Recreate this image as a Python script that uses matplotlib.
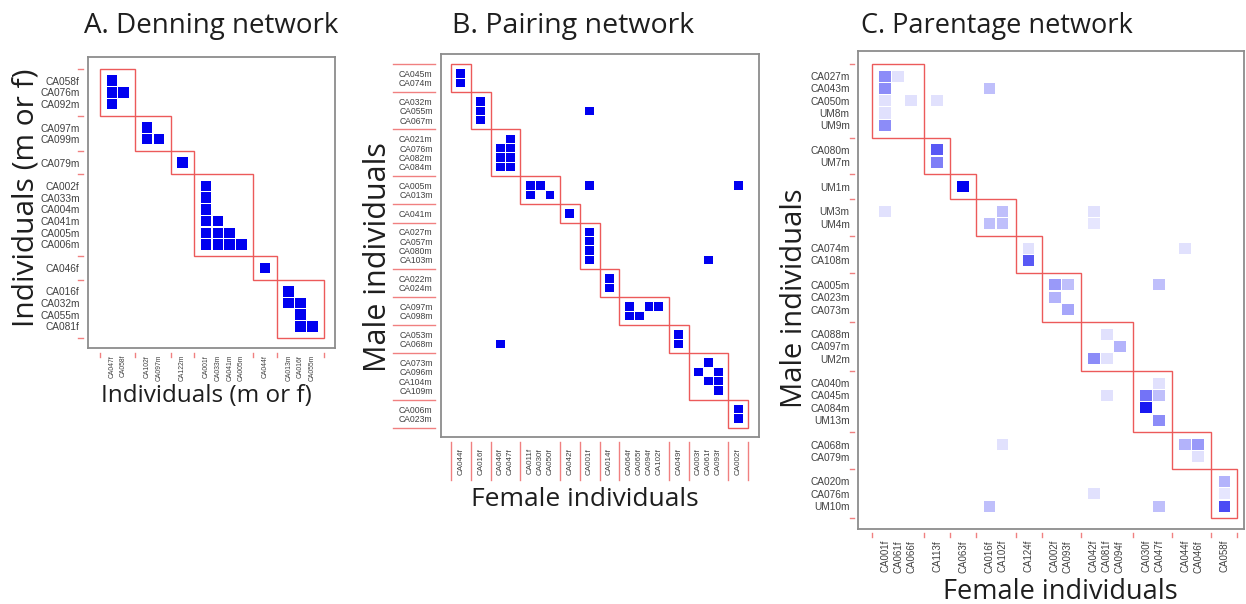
import numpy as np
import matplotlib.pyplot as plt
from matplotlib.colors import LinearSegmentedColormap
from matplotlib.patches import Rectangle

W, H = 1246, 604

# ---------------- A. Denning network ----------------
denning_rows = [["CA058f", "CA076m", "CA092m"], ["CA097m", "CA099m"], ["CA079m"],
                ["CA002f", "CA033m", "CA004m", "CA041m", "CA005m", "CA006m"],
                ["CA046f"], ["CA016f", "CA032m", "CA055m", "CA081f"]]
denning_cols = [["CA047f", "CA058f"], ["CA102f", "CA097m"], ["CA122m"],
                ["CA001f", "CA033m", "CA041m", "CA005m"], ["CA044f"],
                ["CA013m", "CA016f", "CA055m"]]
denning_links = [
    ("CA058f", "CA047f", 1), ("CA076m", "CA047f", 1), ("CA076m", "CA058f", 1),
    ("CA092m", "CA047f", 1),
    ("CA097m", "CA102f", 1), ("CA099m", "CA102f", 1), ("CA099m", "CA097m", 1),
    ("CA079m", "CA122m", 1),
    ("CA002f", "CA001f", 1), ("CA033m", "CA001f", 1), ("CA004m", "CA001f", 1),
    ("CA041m", "CA001f", 1), ("CA041m", "CA033m", 1),
    ("CA005m", "CA001f", 1), ("CA005m", "CA033m", 1), ("CA005m", "CA041m", 1),
    ("CA006m", "CA001f", 1), ("CA006m", "CA033m", 1), ("CA006m", "CA041m", 1),
    ("CA006m", "CA005m", 1),
    ("CA046f", "CA044f", 1),
    ("CA016f", "CA013m", 1), ("CA032m", "CA013m", 1), ("CA032m", "CA016f", 1),
    ("CA055m", "CA016f", 1), ("CA081f", "CA016f", 1), ("CA081f", "CA055m", 1),
]

# ---------------- B. Pairing network ----------------
pairing_rows = [["CA045m", "CA074m"], ["CA032m", "CA055m", "CA067m"],
                ["CA021m", "CA076m", "CA082m", "CA084m"], ["CA005m", "CA013m"],
                ["CA041m"], ["CA027m", "CA057m", "CA080m", "CA103m"],
                ["CA022m", "CA024m"], ["CA097m", "CA098m"], ["CA053m", "CA068m"],
                ["CA073m", "CA096m", "CA104m", "CA109m"], ["CA006m", "CA023m"]]
pairing_cols = [["CA044f"], ["CA016f"], ["CA046f", "CA047f"],
                ["CA011f", "CA030f", "CA050f"], ["CA042f"], ["CA001f"], ["CA014f"],
                ["CA064f", "CA065f", "CA094f", "CA102f"], ["CA049f"],
                ["CA003f", "CA061f", "CA093f"], ["CA002f"]]
pairing_links = [
    ("CA045m", "CA044f", 1), ("CA074m", "CA044f", 1),
    ("CA032m", "CA016f", 1), ("CA055m", "CA016f", 1), ("CA055m", "CA001f", 1),
    ("CA067m", "CA016f", 1),
    ("CA021m", "CA047f", 1), ("CA076m", "CA046f", 1), ("CA076m", "CA047f", 1),
    ("CA082m", "CA046f", 1), ("CA082m", "CA047f", 1), ("CA084m", "CA046f", 1),
    ("CA084m", "CA047f", 1),
    ("CA005m", "CA011f", 1), ("CA005m", "CA030f", 1), ("CA005m", "CA001f", 1),
    ("CA005m", "CA002f", 1), ("CA013m", "CA011f", 1), ("CA013m", "CA050f", 1),
    ("CA041m", "CA042f", 1),
    ("CA027m", "CA001f", 1), ("CA057m", "CA001f", 1), ("CA080m", "CA001f", 1),
    ("CA103m", "CA001f", 1), ("CA103m", "CA061f", 1),
    ("CA022m", "CA014f", 1), ("CA024m", "CA014f", 1),
    ("CA097m", "CA064f", 1), ("CA097m", "CA094f", 1), ("CA097m", "CA102f", 1),
    ("CA098m", "CA064f", 1), ("CA098m", "CA065f", 1),
    ("CA053m", "CA049f", 1), ("CA068m", "CA049f", 1), ("CA068m", "CA046f", 1),
    ("CA073m", "CA061f", 1), ("CA096m", "CA003f", 1), ("CA096m", "CA093f", 1),
    ("CA104m", "CA061f", 1), ("CA104m", "CA093f", 1), ("CA109m", "CA093f", 1),
    ("CA006m", "CA002f", 1), ("CA023m", "CA002f", 1),
]

# ---------------- C. Parentage network ----------------
parentage_rows = [["CA027m", "CA043m", "CA050m", "UM8m", "UM9m"], ["CA080m", "UM7m"],
                  ["UM1m"], ["UM3m", "UM4m"], ["CA074m", "CA108m"],
                  ["CA005m", "CA023m", "CA073m"], ["CA088m", "CA097m", "UM2m"],
                  ["CA040m", "CA045m", "CA084m", "UM13m"], ["CA068m", "CA079m"],
                  ["CA020m", "CA076m", "UM10m"]]
parentage_cols = [["CA001f", "CA061f", "CA066f"], ["CA113f"], ["CA063f"],
                  ["CA016f", "CA102f"], ["CA124f"], ["CA002f", "CA093f"],
                  ["CA042f", "CA081f", "CA094f"], ["CA030f", "CA047f"],
                  ["CA044f", "CA046f"], ["CA058f"]]
parentage_links = [
    ("CA027m", "CA001f", 0.45), ("CA027m", "CA061f", 0.12),
    ("CA043m", "CA001f", 0.45), ("CA043m", "CA016f", 0.25),
    ("CA050m", "CA001f", 0.12), ("CA050m", "CA066f", 0.12), ("CA050m", "CA113f", 0.12),
    ("UM8m", "CA001f", 0.12), ("UM9m", "CA001f", 0.45),
    ("CA080m", "CA113f", 0.65), ("UM7m", "CA113f", 0.5),
    ("UM1m", "CA063f", 1.0),
    ("UM3m", "CA001f", 0.12), ("UM3m", "CA102f", 0.25), ("UM3m", "CA042f", 0.12),
    ("UM4m", "CA016f", 0.25), ("UM4m", "CA102f", 0.25), ("UM4m", "CA042f", 0.1),
    ("CA074m", "CA124f", 0.12), ("CA074m", "CA044f", 0.12), ("CA108m", "CA124f", 0.65),
    ("CA005m", "CA002f", 0.4), ("CA005m", "CA093f", 0.25), ("CA005m", "CA047f", 0.25),
    ("CA023m", "CA002f", 0.3), ("CA073m", "CA093f", 0.35),
    ("CA088m", "CA081f", 0.12), ("CA097m", "CA094f", 0.3),
    ("UM2m", "CA042f", 0.45), ("UM2m", "CA081f", 0.12),
    ("CA040m", "CA047f", 0.12),
    ("CA045m", "CA081f", 0.12), ("CA045m", "CA030f", 0.55), ("CA045m", "CA047f", 0.25),
    ("CA084m", "CA030f", 0.9), ("UM13m", "CA047f", 0.45),
    ("CA068m", "CA102f", 0.12), ("CA068m", "CA044f", 0.3), ("CA068m", "CA046f", 0.4),
    ("CA079m", "CA046f", 0.12),
    ("CA020m", "CA058f", 0.3), ("CA076m", "CA042f", 0.12), ("CA076m", "CA058f", 0.1),
    ("UM10m", "CA016f", 0.25), ("UM10m", "CA047f", 0.25), ("UM10m", "CA058f", 0.7),
]

plt.rcParams["font.family"] = ["Liberation Sans", "DejaVu Sans"]
big_font = ["Open Sans", "DejaVu Sans"]
cmap = LinearSegmentedColormap.from_list("wb", ["#ffffff", "#0000f0"])
box_red = "#ec5a5a"
tick_red = "#f08080"


def layout(groups):
    # one blank row/column before, between and after the groups
    pos, seps, k = {}, [0], 0
    for g in groups:
        for lab in g:
            k += 1
            pos[lab] = k
        k += 1
        seps.append(k)
    return pos, seps


def draw_panel(fig, px, lims, rows, cols, links, st):
    left, top, right, bottom = px
    wpx, hpx = right - left, bottom - top
    ax = fig.add_axes([left / W, 1 - bottom / H, wpx / W, hpx / H])
    rpos, rseps = layout(rows)
    cpos, cseps = layout(cols)

    # one square per link, slightly smaller than the grid pitch
    sq = 0.9
    for r, c, v in links:
        ax.add_patch(Rectangle((cpos[c] - sq / 2, rpos[r] - sq / 2), sq, sq,
                               fc=cmap(float(v)), ec="none", zorder=2))

    # group boxes
    for i in range(len(rows)):
        ax.add_patch(Rectangle((cseps[i], rseps[i]), cseps[i + 1] - cseps[i],
                               rseps[i + 1] - rseps[i], fill=False,
                               ec=box_red, lw=1.0, zorder=3))

    rlabels = [lab for g in rows for lab in g]
    clabels = [lab for g in cols for lab in g]
    ax.set_yticks([rpos[l] for l in rlabels])
    ax.set_yticklabels(rlabels, fontsize=st["yfs"], color="#404040")
    ax.set_xticks([cpos[l] for l in clabels])
    ax.set_xticklabels(clabels, rotation=90, fontsize=st["xfs"], color="#404040")
    ax.tick_params(axis="y", length=0, pad=st["ypad"])
    ax.tick_params(axis="x", length=0, pad=st["xpad"])
    ax.set_xlim(lims[0], lims[1])
    ax.set_ylim(lims[3], lims[2])

    # red separator marks next to the tick labels
    y0, y1 = st["ysep"]
    for s in rseps:
        ax.plot([-y0 / wpx, -y1 / wpx], [s, s], transform=ax.get_yaxis_transform(),
                color=tick_red, lw=1.0, clip_on=False)
    x0, x1 = st["xsep"]
    for s in cseps:
        ax.plot([s, s], [-x0 / hpx, -x1 / hpx], transform=ax.get_xaxis_transform(),
                color=tick_red, lw=1.0, clip_on=False)

    for sp in ax.spines.values():
        sp.set_color("#8c8c8c")
        sp.set_linewidth(1.3)
    return ax


fig = plt.figure(figsize=(W / 100, H / 100), dpi=100)

draw_panel(fig, (88, 57, 335, 348), (-1.02, 19.93, -1.03, 23.85),
           denning_rows, denning_cols, denning_links,
           dict(yfs=7.3, xfs=4.9, ypad=6, xpad=5, ysep=(10, 5), xsep=(5, 9)))
draw_panel(fig, (441, 54, 759, 437), (-1.0, 31.1, -1.1, 40.0),
           pairing_rows, pairing_cols, pairing_links,
           dict(yfs=6.2, xfs=5.8, ypad=6, xpad=8, ysep=(48, 6), xsep=(5, 43)))
draw_panel(fig, (858, 51, 1244, 529), (-1.07, 28.5, -1.05, 37.87),
           parentage_rows, parentage_cols, parentage_links,
           dict(yfs=7.3, xfs=7.0, ypad=6, xpad=8, ysep=(8, 4), xsep=(4, 8)))


def ftext(x, y, s, size, rot=0):
    fig.text(x / W, 1 - y / H, s, fontsize=size, rotation=rot, family=big_font,
             color="#1e1e1e", ha="center", va="center")


ftext(211, 26, "A. Denning network", 20)
ftext(573, 26, "B. Pairing network", 20.5)
ftext(997, 26, "C. Parentage network", 19.5)
ftext(26, 198, "Individuals (m or f)", 21.5, 90)
ftext(206, 396, "Individuals (m or f)", 17.5)
ftext(378, 257, "Male individuals", 22, 90)
ftext(585, 500, "Female individuals", 19)
ftext(795, 298, "Male individuals", 21, 90)
ftext(1060, 592, "Female individuals", 19.5)

fig.savefig("out.png", dpi=100)
